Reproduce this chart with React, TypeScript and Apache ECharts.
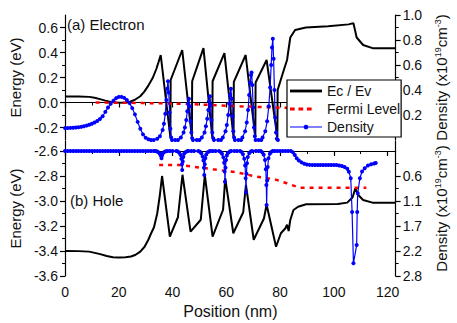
import React, { useEffect, useRef } from "react";
import * as echarts from "echarts";

// ---------- tick values ----------
const positionTicks = [0, 20, 40, 60, 80, 100, 120];
const positionMinor = [10, 30, 50, 70, 90, 110];
const energyTicksTop = [-0.2, 0, 0.2, 0.4, 0.6];
const energyMinorTop = [-0.1, 0.1, 0.3, 0.5];
const densityTicksTop = [0.2, 0.4, 0.6, 0.8, 1.0];
const densityMinorTop = [0.1, 0.3, 0.5, 0.7, 0.9];
const energyTicksBottom = [-3.6, -3.4, -3.2, -3.0, -2.8, -2.6];
const energyMinorBottom = [-3.5, -3.3, -3.1, -2.9, -2.7];
const densityTicksBottom = [0.55, 1.1, 1.65, 2.2, 2.75];
const densityMinorBottom = [0.275, 0.825, 1.375, 1.925, 2.475];

const legendNames = ["Ec / Ev", "Fermi Level", "Density"];

// ---------- (a) Electron: conduction band Ec (eV) ----------
const ecTop: [number, number][] = [
  [0, 0.048], [5, 0.048], [9, 0.045], [11, 0.038], [13, 0.027], [15, 0.015], [17, 0.005],
  [19, 0.0], [22, -0.002], [24, 0.004], [26, 0.022], [28, 0.05], [29.5, 0.087], [31, 0.135],
  [32.7, 0.2], [34, 0.27], [34.8, 0.324], [35.6, 0.38],
  [39.2, -0.28], [39.3, 0.18], [43.6, 0.42],
  [47.2, -0.28], [47.3, 0.17], [51.5, 0.435],
  [54.8, -0.28], [54.9, 0.17], [59.3, 0.395],
  [62.7, -0.28], [62.8, 0.165], [67.2, 0.38],
  [70.8, -0.28], [70.9, 0.16], [75.0, 0.34],
  [79.0, -0.28], [79.1, 0.1], [81.4, 0.26], [82.6, 0.34], [83.8, 0.52], [85.6, 0.58],
  [89.6, 0.6], [97.9, 0.61], [105.5, 0.625], [107.3, 0.635], [108.5, 0.52], [110.9, 0.46],
  [114.4, 0.435], [123, 0.435],
];

// quasi-Fermi level for electrons (eV)
const fermiTop: [number, number][] = [
  [11.4, 0.0], [25, -0.003], [40, -0.008], [50, -0.016], [65, -0.03], [80, -0.042], [112, -0.05],
];

// electron density (x10^19 cm^-3)
const densityTop: [number, number][] = [
  [0, 0.095], [1, 0.096], [2, 0.097], [3, 0.098], [4, 0.1], [5, 0.102], [6, 0.105], [7, 0.11],
  [8, 0.115], [9, 0.122], [10, 0.13], [11, 0.14], [12, 0.152], [13, 0.168], [14, 0.19],
  [15, 0.225], [16, 0.26], [17, 0.29], [18, 0.315], [19, 0.335], [20, 0.345], [21, 0.345],
  [22, 0.337], [23, 0.32], [24, 0.295], [25, 0.255], [26, 0.205], [27, 0.145], [28, 0.09],
  [29, 0.045], [30, 0.018], [31, 0.006], [32, 0], [33, 0],
  [34.3, 0.01], [35.3, 0.03], [36.3, 0.08], [36.8, 0.13], [37.3, 0.21], [37.7, 0.32], [38.0, 0.41],
  [38.3, 0.47], [38.6, 0.38], [38.9, 0.22], [39.2, 0.09], [39.5, 0.02], [39.8, 0.0],
  [41, 0], [42, 0],
  [43.1, 0.02], [44.1, 0.06], [44.6, 0.1], [45.1, 0.16], [45.5, 0.23], [45.8, 0.29], [46.1, 0.33],
  [46.4, 0.27], [46.7, 0.15], [47.0, 0.06], [47.3, 0.015], [47.6, 0],
  [49, 0], [50, 0],
  [50.9, 0.02], [51.9, 0.06], [52.4, 0.11], [52.9, 0.17], [53.3, 0.24], [53.6, 0.31], [53.9, 0.35],
  [54.2, 0.28], [54.5, 0.16], [54.8, 0.06], [55.1, 0.015], [55.4, 0],
  [57, 0], [58, 0],
  [58.7, 0.02], [59.7, 0.07], [60.2, 0.12], [60.7, 0.2], [61.1, 0.29], [61.4, 0.36], [61.7, 0.41],
  [62.0, 0.33], [62.3, 0.19], [62.6, 0.07], [62.9, 0.02], [63.2, 0],
  [64.5, 0], [65.5, 0],
  [66.0, 0.02], [67.0, 0.07], [67.6, 0.14], [68.1, 0.24], [68.5, 0.36], [68.9, 0.46], [69.2, 0.52],
  [69.4, 0.54], [69.7, 0.44], [70.0, 0.26], [70.3, 0.1], [70.6, 0.03], [70.9, 0],
  [72, 0], [73, 0],
  [73.5, 0.02], [74.5, 0.07], [75.2, 0.15], [75.8, 0.27], [76.3, 0.42], [76.7, 0.6], [77.0, 0.74],
  [77.3, 0.81], [77.6, 0.65], [77.9, 0.4], [78.2, 0.18], [78.5, 0.06], [78.8, 0.01], [79.2, 0],
];

// ---------- (b) Hole: valence band Ev (eV) ----------
const evBottom: [number, number][] = [
  [0, -3.4], [5, -3.401], [9, -3.405], [13.1, -3.425], [15.5, -3.44], [17.8, -3.45], [20, -3.452],
  [22.5, -3.45], [24.5, -3.444], [26.1, -3.432], [28, -3.405], [29.6, -3.366], [31, -3.31],
  [32, -3.26], [33.1, -3.21], [34.3, -3.1], [35.3, -2.95], [36.1, -2.8],
  [39.0, -3.285], [42.0, -3.13], [43.7, -2.79],
  [46.7, -3.245], [50.5, -3.15], [52.0, -2.792],
  [54.9, -3.285], [58.8, -3.07], [59.6, -2.818],
  [62.6, -3.258], [66.3, -3.09], [67.3, -2.87],
  [70.2, -3.31], [74.0, -3.14], [75.0, -3.03],
  [78.5, -3.366], [80.3, -3.258], [82.0, -3.218], [82.6, -3.19], [83.2, -3.24], [83.8, -3.152],
  [85.0, -3.072], [86.7, -3.046], [89.7, -3.026], [101.5, -3.024], [105.0, -3.013], [107.0, -2.97],
  [108.0, -2.898], [109.1, -2.952], [110.9, -2.992], [114.4, -3.013], [123, -3.013],
];

// quasi-Fermi level for holes (eV)
const fermiBottom: [number, number][] = [
  [35, -2.712], [42.6, -2.712], [47.9, -2.726], [55, -2.746], [63.8, -2.77], [71.4, -2.806],
  [77.9, -2.826], [82.5, -2.858], [87.3, -2.894], [112.1, -2.894],
];

// hole density (x10^19 cm^-3), plotted on an inverted axis
const densityBottom: [number, number][] = [
  [0, 0], [1, 0], [2, 0], [3, 0], [4, 0], [5, 0], [6, 0], [7, 0], [8, 0], [9, 0], [10, 0],
  [11, 0], [12, 0], [13, 0], [14, 0], [15, 0], [16, 0], [17, 0], [18, 0], [19, 0], [20, 0],
  [21, 0], [22, 0], [23, 0], [24, 0], [25, 0], [26, 0], [27, 0], [28, 0], [29, 0], [30, 0],
  [31, 0], [32, 0], [33, 0],
  [33.7, 0], [34.3, 0.01], [34.8, 0.03], [35.3, 0.06], [35.6, 0.1], [35.9, 0.16], [36.1, 0.1],
  [36.4, 0.05], [36.9, 0.02], [37.5, 0.005], [38.1, 0],
  [39, 0], [40, 0],
  [41.4, 0], [42.0, 0.01], [42.5, 0.04], [43.0, 0.09], [43.3, 0.17], [43.5, 0.29], [43.6, 0.42],
  [43.8, 0.23], [44.0, 0.13], [44.3, 0.06], [44.8, 0.025], [45.4, 0.005], [45.9, 0],
  [47, 0], [48, 0],
  [49.6, 0], [50.2, 0.015], [50.7, 0.05], [51.2, 0.12], [51.5, 0.21], [51.7, 0.37], [51.8, 0.53],
  [52.0, 0.29], [52.2, 0.16], [52.5, 0.08], [53.0, 0.03], [53.6, 0.008], [54.1, 0],
  [55, 0], [56, 0],
  [57.3, 0], [57.9, 0.02], [58.4, 0.06], [58.9, 0.14], [59.2, 0.26], [59.4, 0.45], [59.5, 0.675],
  [59.7, 0.37], [59.9, 0.2], [60.2, 0.1], [60.7, 0.04], [61.3, 0.01], [61.8, 0],
  [63, 0], [64, 0],
  [65.1, 0], [65.7, 0.02], [66.2, 0.07], [66.7, 0.17], [67.0, 0.32], [67.2, 0.6], [67.3, 0.91],
  [67.5, 0.5], [67.7, 0.27], [68.0, 0.13], [68.5, 0.05], [69.1, 0.01], [69.6, 0],
  [71, 0], [72, 0],
  [72.8, 0], [73.4, 0.03], [73.9, 0.08], [74.4, 0.2], [74.7, 0.4], [74.9, 0.75], [75.0, 1.19],
  [75.2, 0.65], [75.4, 0.35], [75.7, 0.16], [76.2, 0.06], [76.8, 0.015], [77.3, 0],
  [78, 0], [79, 0], [80, 0], [81, 0], [82, 0], [83, 0], [84, 0],
  [84.8, 0.03], [85.5, 0.09], [86.2, 0.16], [87, 0.21], [88, 0.25], [89, 0.28], [90, 0.295],
  [91, 0.305], [92, 0.31], [93, 0.31], [94, 0.31], [95, 0.31], [96, 0.31], [97, 0.31],
  [98, 0.31], [99, 0.31], [100, 0.31], [101, 0.31], [102, 0.318], [103, 0.33], [104, 0.35],
  [105, 0.39], [105.6, 0.455], [106.3, 0.6], [106.8, 1.34], [107.3, 2.47], [108.5, 2.07],
  [108.7, 1.34], [108.9, 0.93], [109.7, 0.6], [110.5, 0.45], [111.5, 0.38], [112.7, 0.32],
  [113.9, 0.29], [115.0, 0.275], [115.6, 0.265],
];

const FONT = "'Liberation Sans', Arial, Helvetica, sans-serif";
const TXT = "#111";

// legend icons (34 x 14 box)
const ICON_LINE = "path://M0,5.5h34v3h-34z";
const ICON_DASH = "path://M0,5.5h5v3h-5z M9,5.5h5v3h-5z M18,5.5h5v3h-5z M33.9,5.5h0.1v0.1h-0.1z";
const ICON_DOT =
  "path://M0,6.4h34v1.2h-34z M17,4.5A2.5,2.5 0 1,1 16.99,4.5z M0,3.5h0.05v0.05h-0.05z M0,10.45h0.05v0.05h-0.05z";

export default function App() {
  const ref = useRef<HTMLDivElement>(null);

  useEffect(() => {
    const chart = echarts.init(ref.current!, null, { renderer: "svg" });

    const line = { show: true, lineStyle: { color: "#000", width: 1.2 } };
    const majorTick = (vals: number[]) => ({
      show: true, inside: false, length: 5, customValues: vals,
      lineStyle: { color: "#000", width: 1.2 },
    });
    const minorOverlay = (vals: number[]) => ({
      axisLine: { show: false },
      axisLabel: { show: false },
      splitLine: { show: false },
      axisTick: { show: true, inside: false, length: 3, customValues: vals, lineStyle: { color: "#000", width: 1 } },
    });
    const labelStyle = { fontFamily: FONT, fontSize: 14, color: TXT };
    const fmt1 = (v: number) => (Math.round(v * 10 + 1e-9) / 10).toFixed(1);
    const densName = "Density (x10{s|19}cm{s|-3})";

    const xAxes = [0, 1].flatMap((g) => [
      {
        type: "value", gridIndex: g, min: 0, max: 123, position: "bottom",
        axisLine: line, splitLine: { show: false },
        axisTick: majorTick(positionTicks),
        axisLabel: g === 1
          ? { show: true, customValues: positionTicks, margin: 9, ...labelStyle }
          : { show: false },
        name: g === 1 ? "Position (nm)" : "",
        nameLocation: "middle", nameGap: 27,
        nameTextStyle: { fontFamily: FONT, fontSize: 16, color: TXT },
      },
      { type: "value", gridIndex: g, min: 0, max: 123, position: "bottom", ...minorOverlay(positionMinor) },
    ]);

    const nameLeft = { fontFamily: FONT, fontSize: 15, color: TXT };
    const nameRight = {
      fontFamily: FONT, fontSize: 15, color: TXT, lineHeight: 16,
      rich: { s: { fontFamily: FONT, fontSize: 9, color: TXT, verticalAlign: "top", lineHeight: 16 } },
    };

    const yAxes = [
      {
        type: "value", gridIndex: 0, min: -0.3, max: 0.7, position: "left",
        axisLine: line, splitLine: { show: false }, axisTick: majorTick(energyTicksTop),
        axisLabel: { customValues: energyTicksTop, formatter: fmt1, margin: 7, ...labelStyle },
        name: "Energy (eV)", nameLocation: "middle", nameGap: 36, nameRotate: 90, nameTextStyle: nameLeft,
      },
      { type: "value", gridIndex: 0, min: -0.3, max: 0.7, position: "left", ...minorOverlay(energyMinorTop) },
      {
        type: "value", gridIndex: 0, min: 0, max: 1.0, position: "right",
        axisLine: line, splitLine: { show: false }, axisTick: majorTick(densityTicksTop),
        axisLabel: { customValues: densityTicksTop, formatter: fmt1, margin: 7, ...labelStyle },
        name: densName, nameLocation: "middle", nameGap: 30, nameRotate: 90, nameTextStyle: nameRight,
      },
      { type: "value", gridIndex: 0, min: 0, max: 1.0, position: "right", ...minorOverlay(densityMinorTop) },
      {
        type: "value", gridIndex: 1, min: -3.6, max: -2.52, position: "left",
        axisLine: line, splitLine: { show: false }, axisTick: majorTick(energyTicksBottom),
        axisLabel: { customValues: energyTicksBottom, formatter: fmt1, margin: 7, ...labelStyle },
        name: "Energy (eV)", nameLocation: "middle", nameGap: 36, nameRotate: 90, nameTextStyle: nameLeft,
      },
      { type: "value", gridIndex: 1, min: -3.6, max: -2.52, position: "left", ...minorOverlay(energyMinorBottom) },
      {
        type: "value", gridIndex: 1, min: -0.22, max: 2.75, inverse: true, position: "right",
        axisLine: line, splitLine: { show: false }, axisTick: majorTick(densityTicksBottom),
        axisLabel: { customValues: densityTicksBottom, formatter: fmt1, margin: 7, ...labelStyle },
        name: densName, nameLocation: "middle", nameGap: 30, nameRotate: 90, nameTextStyle: nameRight,
      },
      { type: "value", gridIndex: 1, min: -0.22, max: 2.75, inverse: true, position: "right", ...minorOverlay(densityMinorBottom) },
    ];

    const black = { type: "line", symbol: "none", lineStyle: { color: "#000", width: 2 }, itemStyle: { color: "#000" }, z: 3 };
    const red = { type: "line", symbol: "none", lineStyle: { color: "#ff0000", width: 2.5, type: [4, 5] }, itemStyle: { color: "#ff0000" }, z: 4 };
    const blue = {
      type: "line", symbol: "circle", symbolSize: 4, showSymbol: true,
      lineStyle: { color: "#0000ff", width: 1.2 }, itemStyle: { color: "#0000ff" }, z: 5,
    };

    const option: any = {
      animation: false,
      backgroundColor: "#fff",
      textStyle: { fontFamily: FONT },
      grid: [
        { left: 60, top: 15, width: 348, height: 125 },
        { left: 60, top: 141, width: 348, height: 135 },
      ],
      xAxis: xAxes,
      yAxis: yAxes,
      legend: {
        orient: "vertical", left: 287, top: 80,
        data: [
          { name: legendNames[0], icon: ICON_LINE, itemStyle: { color: "#000" } },
          { name: legendNames[1], icon: ICON_DASH, itemStyle: { color: "#ff0000" } },
          { name: legendNames[2], icon: ICON_DOT, itemStyle: { color: "#0000ff" } },
        ],
        itemWidth: 32, itemHeight: 14, itemGap: 4,
        symbolKeepAspect: true,
        padding: [4, 1, 3, 3],
        backgroundColor: "#fff", borderColor: "#000", borderWidth: 1.2, borderRadius: 0,
        textStyle: { fontFamily: FONT, fontSize: 14, color: TXT },
        z: 20,
      },
      graphic: [
        { type: "text", left: 67, top: 17, style: { text: "(a) Electron", fontFamily: FONT, fontSize: 15, fill: TXT } },
        { type: "text", left: 70, top: 193, style: { text: "(b) Hole", fontFamily: FONT, fontSize: 15, fill: TXT } },
      ],
      series: [
        { ...black, name: legendNames[0], xAxisIndex: 0, yAxisIndex: 0, data: ecTop },
        { ...red, name: legendNames[1], xAxisIndex: 0, yAxisIndex: 0, data: fermiTop },
        { ...blue, name: legendNames[2], xAxisIndex: 0, yAxisIndex: 2, data: densityTop },
        { ...black, name: legendNames[0], xAxisIndex: 2, yAxisIndex: 4, data: evBottom },
        { ...red, name: legendNames[1], xAxisIndex: 2, yAxisIndex: 4, data: fermiBottom },
        { ...blue, name: legendNames[2], xAxisIndex: 2, yAxisIndex: 6, data: densityBottom },
      ],
    };

    chart.setOption(option);
    return () => chart.dispose();
  }, []);

  return <div ref={ref} style={{ position: "absolute", left: 0, top: 0, width: 457, height: 323 }} />;
}
